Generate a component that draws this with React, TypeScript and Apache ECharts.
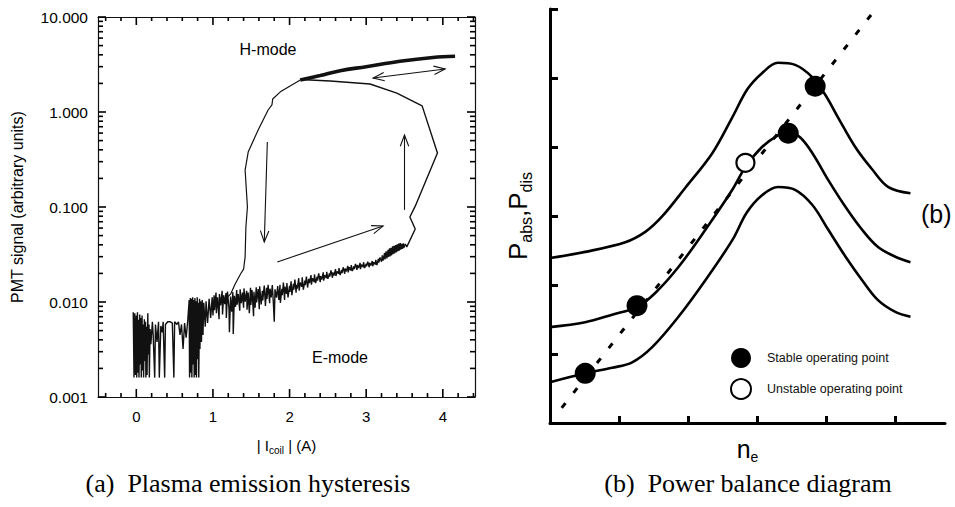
import React, { useEffect, useRef } from 'react';
import * as echarts from 'echarts';

// ---------- (a) Plasma emission hysteresis : [I_coil (A), PMT signal] ----------
const eNoiseLow: number[][] = [
  [-0.04, 0.0078], [-0.03, 0.0016], [-0.02, 0.0076], [-0.01, 0.0017], [0.0, 0.0072], [0.005, 0.0016],
  [0.015, 0.0078], [0.02, 0.0018], [0.03, 0.0065], [0.035, 0.0016], [0.045, 0.0074], [0.05, 0.0022],
  [0.06, 0.0068], [0.065, 0.0016], [0.075, 0.0072], [0.08, 0.0019], [0.09, 0.0058], [0.095, 0.0016],
  [0.105, 0.0066], [0.11, 0.0024], [0.12, 0.0062], [0.125, 0.0016], [0.135, 0.0055], [0.14, 0.0017],
  [0.15, 0.0076], [0.155, 0.0028], [0.165, 0.0058], [0.17, 0.0016], [0.18, 0.0052], [0.19, 0.0036],
  [0.21, 0.0062], [0.22, 0.0045], [0.24, 0.0016], [0.25, 0.0058], [0.27, 0.0038], [0.29, 0.0062],
  [0.3, 0.0016], [0.32, 0.0056], [0.34, 0.0048], [0.35, 0.0062], [0.37, 0.0016], [0.38, 0.0058],
  [0.41, 0.0062], [0.44, 0.0062], [0.47, 0.006], [0.49, 0.0016], [0.5, 0.0062], [0.53, 0.0058],
  [0.55, 0.0062], [0.57, 0.0045], [0.59, 0.0058], [0.61, 0.0032], [0.63, 0.006], [0.65, 0.0042],
  [0.67, 0.0062], [0.69, 0.0105], [0.695, 0.0016], [0.705, 0.011], [0.71, 0.0018], [0.72, 0.0108],
  [0.725, 0.0016], [0.735, 0.0112], [0.74, 0.0022], [0.75, 0.0105], [0.755, 0.0016], [0.765, 0.011],
  [0.77, 0.0017], [0.78, 0.0102], [0.785, 0.0016], [0.795, 0.0112], [0.8, 0.0025], [0.81, 0.0098],
  [0.815, 0.0016], [0.825, 0.0108], [0.83, 0.0032], [0.84, 0.0102], [0.85, 0.0038], [0.86, 0.0105],
  [0.87, 0.0045], [0.88, 0.0098], [0.9, 0.0055], [0.91, 0.0102], [0.93, 0.006], [0.95, 0.0108],
  [0.97, 0.0068], [0.99, 0.0112],
];
const eNoiseMid: number[][] = [
  [1.0, 0.0072], [1.015, 0.0118], [1.02, 0.0082], [1.04, 0.0126], [1.045, 0.0076], [1.06, 0.0112],
  [1.08, 0.0066], [1.085, 0.0121], [1.1, 0.0092], [1.12, 0.0131], [1.125, 0.0074], [1.14, 0.0118],
  [1.155, 0.0095], [1.17, 0.0124], [1.175, 0.0068], [1.19, 0.0129], [1.21, 0.0084], [1.215, 0.0048],
  [1.23, 0.0114], [1.245, 0.0079], [1.26, 0.0127], [1.265, 0.0046], [1.28, 0.0116], [1.295, 0.0089],
  [1.31, 0.0134], [1.315, 0.0094], [1.33, 0.0121], [1.35, 0.0081], [1.355, 0.0136], [1.37, 0.0097],
  [1.385, 0.0126], [1.4, 0.0087], [1.405, 0.0139], [1.42, 0.0101], [1.44, 0.0131], [1.445, 0.0083],
  [1.46, 0.0126], [1.475, 0.0076], [1.49, 0.0141], [1.495, 0.0093], [1.51, 0.0134], [1.53, 0.0071],
  [1.535, 0.0128], [1.55, 0.0087], [1.565, 0.0143], [1.57, 0.0099], [1.59, 0.0137], [1.605, 0.0084],
  [1.61, 0.0146], [1.63, 0.0094], [1.645, 0.0131], [1.65, 0.0104], [1.67, 0.0149], [1.685, 0.0091],
  [1.7, 0.0141], [1.705, 0.0108], [1.72, 0.0152], [1.74, 0.0097], [1.745, 0.0138], [1.76, 0.0112],
  [1.775, 0.0151], [1.79, 0.0093], [1.8, 0.0062], [1.81, 0.0136], [1.83, 0.0111], [1.845, 0.0147],
];
const eNoiseHigh: number[][] = [
  [1.86, 0.0105], [1.875, 0.0152], [1.88, 0.0098], [1.9, 0.0138], [1.905, 0.0118], [1.92, 0.016],
  [1.935, 0.0105], [1.94, 0.0145], [1.96, 0.0122], [1.965, 0.0158], [1.98, 0.0112], [2.0, 0.0148],
  [2.005, 0.0128], [2.02, 0.0165], [2.03, 0.0118], [2.05, 0.0155], [2.055, 0.0135], [2.07, 0.0172],
  [2.085, 0.0125], [2.09, 0.0152], [2.1, 0.0138], [2.12, 0.0178], [2.125, 0.0132], [2.14, 0.016],
  [2.16, 0.0145], [2.165, 0.0182], [2.18, 0.0135], [2.2, 0.0168], [2.205, 0.015], [2.22, 0.0185],
  [2.235, 0.0142], [2.25, 0.0175], [2.26, 0.0158], [2.28, 0.0192], [2.285, 0.0152], [2.3, 0.0178],
  [2.32, 0.0162], [2.325, 0.0195], [2.34, 0.0158], [2.36, 0.0185], [2.365, 0.0168], [2.38, 0.02],
  [2.4, 0.0162], [2.405, 0.0188], [2.42, 0.0172], [2.44, 0.0205], [2.445, 0.0168], [2.46, 0.0192],
  [2.48, 0.0178], [2.485, 0.0208], [2.5, 0.0175], [2.52, 0.02], [2.525, 0.0185], [2.54, 0.0215],
  [2.56, 0.018], [2.565, 0.0205], [2.58, 0.019], [2.6, 0.0222], [2.605, 0.0188], [2.62, 0.021],
  [2.64, 0.0198], [2.645, 0.0228], [2.66, 0.0192], [2.68, 0.0218], [2.685, 0.0202], [2.7, 0.0232],
  [2.72, 0.0198], [2.725, 0.0225], [2.74, 0.021], [2.76, 0.024], [2.765, 0.0205], [2.78, 0.0232],
  [2.8, 0.0215], [2.805, 0.0245], [2.82, 0.0212], [2.84, 0.0238], [2.845, 0.0222], [2.86, 0.0252],
  [2.88, 0.0218], [2.885, 0.0245], [2.9, 0.0228], [2.92, 0.0258], [2.925, 0.0222], [2.94, 0.0248],
  [2.96, 0.0232], [2.965, 0.0262], [2.98, 0.0228], [3.0, 0.0252], [3.005, 0.0238], [3.02, 0.0265],
  [3.04, 0.0232], [3.045, 0.0258], [3.06, 0.0242], [3.08, 0.027], [3.085, 0.0238], [3.1, 0.0262],
  [3.12, 0.0248], [3.125, 0.0278], [3.14, 0.0245], [3.16, 0.0285], [3.165, 0.026], [3.18, 0.0295],
  [3.2, 0.0265], [3.21, 0.031], [3.22, 0.0272], [3.24, 0.0328], [3.245, 0.028], [3.26, 0.0342],
  [3.27, 0.0288], [3.285, 0.0355], [3.29, 0.0298], [3.305, 0.0368], [3.31, 0.0302], [3.325, 0.0372],
  [3.33, 0.031], [3.345, 0.0385], [3.35, 0.0318], [3.365, 0.039], [3.37, 0.0325], [3.385, 0.0398],
  [3.39, 0.0332], [3.405, 0.0405], [3.41, 0.034], [3.425, 0.0412], [3.43, 0.0348], [3.445, 0.0418],
  [3.45, 0.0355], [3.465, 0.041], [3.47, 0.0362], [3.485, 0.0415], [3.49, 0.037], [3.51, 0.0408],
  [3.53, 0.038],
];
const jumpUp: number[][] = [
  [3.53, 0.038], [3.64, 0.0586], [3.57, 0.0785], [3.64, 0.102], [3.93, 0.37], [3.73, 1.16],
  [3.4, 1.58], [3.05, 1.97], [2.53, 2.12], [2.14, 2.2],
];
const hBranch: number[][] = [
  [2.14, 2.17], [2.4, 2.42], [2.66, 2.72], [3.0, 3.0], [3.44, 3.42], [3.87, 3.75], [4.16, 3.86],
];
const descending: number[][] = [
  [2.14, 2.17], [1.88, 1.63], [1.78, 1.37], [1.77, 1.19], [1.72, 1.05], [1.59, 0.647], [1.46, 0.379],
  [1.42, 0.245], [1.45, 0.1], [1.43, 0.0616], [1.42, 0.0298], [1.4, 0.0222], [1.36, 0.0197],
  [1.29, 0.0155], [1.23, 0.0121], [1.15, 0.0105],
];
// arrows: [x1, y1, x2, y2, heads(1 = end, 2 = both)]
const arrowsA: number[][] = [
  [3.09, 2.28, 4.03, 2.84, 2],
  [1.71, 0.483, 1.67, 0.0428, 1],
  [1.84, 0.0264, 3.22, 0.063, 1],
  [3.5, 0.0933, 3.5, 0.573, 1],
];
const xTickLabelsA = ['0', '1', '2', '3', '4'];
const xMajorTicksA = [0, 1, 2, 3, 4];
const yDecadesA = [0.001, 0.01, 0.1, 1, 10];

// ---------- (b) Power balance diagram : [n_e, P] in axis units ----------
const topCurve: number[][] = [
  [0, 2.39], [0.51, 2.48], [1.09, 2.62], [1.38, 2.77], [1.62, 2.99], [1.96, 3.41], [2.35, 3.91],
  [2.64, 4.43], [2.86, 4.84], [3.07, 5.07], [3.3, 5.22], [3.55, 5.19], [3.8, 5.01], [3.99, 4.75],
  [4.17, 4.43], [4.42, 4.0], [4.67, 3.67], [4.9, 3.42], [5.22, 3.33],
];
const midCurve: number[][] = [
  [0, 1.39], [0.51, 1.46], [0.9, 1.57], [1.26, 1.68], [1.52, 1.88], [1.86, 2.26], [2.25, 2.8],
  [2.64, 3.38], [2.83, 3.71], [3.07, 4.0], [3.3, 4.17], [3.45, 4.22], [3.62, 4.14], [3.8, 3.91],
  [4.03, 3.52], [4.28, 3.13], [4.52, 2.8], [4.75, 2.55], [5.0, 2.41], [5.22, 2.33],
];
const botCurve: number[][] = [
  [0, 0.59], [0.51, 0.72], [0.9, 0.8], [1.19, 0.88], [1.48, 1.1], [1.86, 1.54], [2.25, 2.07],
  [2.64, 2.65], [2.85, 3.05], [3.07, 3.3], [3.3, 3.42], [3.55, 3.38], [3.8, 3.16], [4.03, 2.8],
  [4.28, 2.41], [4.52, 2.07], [4.75, 1.78], [5.0, 1.61], [5.22, 1.54],
];
const loadLine: number[][] = [[0.17, 0.22], [4.67, 5.94]];
const stablePoints: number[][] = [[0.51, 0.72], [1.26, 1.7], [3.45, 4.2], [3.84, 4.88]];
const unstablePoints: number[][] = [[2.83, 3.77]];
const xTicksB = [1, 2, 3, 4, 5];

const SANS = '"Liberation Sans", Arial, Helvetica, sans-serif';
const SERIF = '"Liberation Serif", "Times New Roman", serif';

// tick marks of panel (a): [x, y, kind (0 = x tick, 1 = y tick), length]
function buildTicksA(): number[][] {
  const out: number[][] = [];
  for (let i = -2; i <= 22; i++) {
    const v = i / 5;
    const major = xMajorTicksA.indexOf(v) >= 0;
    out.push([v, 1, 0, major ? 8 : 4]);
  }
  yDecadesA.forEach((d, k) => {
    out.push([0, d, 1, 8]);
    if (k < yDecadesA.length - 1) for (let m = 2; m <= 9; m++) out.push([0, m * d, 1, 5]);
  });
  return out;
}

export default function App() {
  const ref = useRef<HTMLDivElement>(null);
  useEffect(() => {
    const chart = echarts.init(ref.current as HTMLDivElement, undefined, { renderer: 'svg' });

    const arrowRender = (params: any, api: any) => {
      const a = api.coord([api.value(0), api.value(1)]);
      const b = api.coord([api.value(2), api.value(3)]);
      const both = api.value(4) === 2;
      const head = (tip: number[], from: number[]) => {
        const ang = Math.atan2(tip[1] - from[1], tip[0] - from[0]);
        const L = 12, w = 0.36;
        return [
          [tip[0] - L * Math.cos(ang - w), tip[1] - L * Math.sin(ang - w)],
          tip,
          [tip[0] - L * Math.cos(ang + w), tip[1] - L * Math.sin(ang + w)],
        ];
      };
      const style = { stroke: '#111', lineWidth: 1.1, fill: null };
      const children: any[] = [
        { type: 'line', shape: { x1: a[0], y1: a[1], x2: b[0], y2: b[1] }, style },
        { type: 'polyline', shape: { points: head(b, a) }, style },
      ];
      if (both) children.push({ type: 'polyline', shape: { points: head(a, b) }, style });
      return { type: 'group', children };
    };

    const tickRender = (params: any, api: any) => {
      const cs = params.coordSys;
      const kind = api.value(2);
      const len = api.value(3);
      const style = { stroke: '#000', lineWidth: 1.6 };
      if (kind === 0) {
        const px = api.coord([api.value(0), 1])[0];
        const yb = cs.y + cs.height;
        return {
          type: 'group', children: [
            { type: 'line', shape: { x1: px, y1: yb, x2: px, y2: yb - len }, style },
            { type: 'line', shape: { x1: px, y1: cs.y, x2: px, y2: cs.y + len }, style },
          ],
        };
      }
      const py = api.coord([0, api.value(1)])[1];
      const xr = cs.x + cs.width;
      return {
        type: 'group', children: [
          { type: 'line', shape: { x1: cs.x, y1: py, x2: cs.x + len, y2: py }, style },
          { type: 'line', shape: { x1: xr, y1: py, x2: xr - len, y2: py }, style },
        ],
      };
    };

    const lineA = (data: number[][], width: number, smooth: number | boolean = false) => ({
      type: 'line', xAxisIndex: 0, yAxisIndex: 0, data, showSymbol: false, symbol: 'none', smooth,
      lineStyle: { color: '#111', width }, silent: true,
    });
    const curveB = (data: number[][]) => ({
      type: 'line', xAxisIndex: 2, yAxisIndex: 2, data, smooth: 0.35, showSymbol: false, symbol: 'none',
      lineStyle: { color: '#000', width: 2.6 }, silent: true,
    });

    const axisA = () => ({ show: true, onZero: false, lineStyle: { color: '#111', width: 1.2 } });

    const option: any = {
      animation: false,
      backgroundColor: '#fff',
      textStyle: { fontFamily: SANS },
      grid: [
        { left: 98, top: 17, width: 377, height: 380 },
        { left: 550, top: 9, width: 395, height: 414 },
      ],
      xAxis: [
        {
          gridIndex: 0, type: 'value', min: -0.5, max: 4.42, position: 'bottom',
          axisLine: axisA(), axisTick: { show: false }, splitLine: { show: false },
          axisLabel: {
            margin: 12, fontSize: 15, color: '#000', fontFamily: SANS,
            formatter: (v: number) => (Number.isInteger(v) && v >= 0 ? xTickLabelsA[v] : ''),
          },
          name: '{m|| I}{s|coil}{m| | (A)}', nameLocation: 'middle', nameGap: 38,
          nameTextStyle: {
            color: '#000',
            rich: {
              m: { fontSize: 15, fontFamily: SANS, color: '#000', lineHeight: 20, verticalAlign: 'middle' },
              s: { fontSize: 10, fontFamily: SANS, color: '#000', lineHeight: 10, verticalAlign: 'bottom' },
            },
          },
        },
        {
          gridIndex: 0, type: 'value', min: -0.5, max: 4.42, position: 'top',
          axisLine: axisA(), axisTick: { show: false }, splitLine: { show: false },
          axisLabel: { show: false },
        },
        {
          gridIndex: 1, type: 'value', min: 0, max: 5.72, position: 'bottom',
          axisLine: { show: true, onZero: false, lineStyle: { color: '#000', width: 3 } },
          axisTick: { show: true, inside: true, length: 7, customValues: xTicksB, lineStyle: { color: '#000', width: 3 } },
          axisLabel: { show: false }, splitLine: { show: false },
          name: '{m|n}{s|e}', nameLocation: 'middle', nameGap: 11,
          nameTextStyle: {
            color: '#000',
            rich: {
              m: { fontSize: 25, fontFamily: SANS, color: '#000', lineHeight: 30, verticalAlign: 'middle' },
              s: { fontSize: 14, fontFamily: SANS, color: '#000', lineHeight: 14, verticalAlign: 'bottom' },
            },
          },
        },
      ],
      yAxis: [
        {
          gridIndex: 0, type: 'log', logBase: 10, min: 0.001, max: 10, position: 'left',
          axisLine: axisA(), axisTick: { show: false }, splitLine: { show: false },
          axisLabel: { margin: 10, fontSize: 15.5, color: '#000', fontFamily: SANS, formatter: (v: number) => v.toFixed(3) },
          name: 'PMT signal (arbitrary units)', nameLocation: 'middle', nameGap: 73,
          nameTextStyle: { fontSize: 16, color: '#000', fontFamily: SANS },
        },
        {
          gridIndex: 0, type: 'log', logBase: 10, min: 0.001, max: 10, position: 'right',
          axisLine: axisA(), axisTick: { show: false }, splitLine: { show: false }, axisLabel: { show: false },
        },
        {
          gridIndex: 1, type: 'value', min: 0, max: 6, interval: 1, position: 'left',
          axisLine: { show: true, onZero: false, lineStyle: { color: '#000', width: 3 } },
          axisTick: { show: true, inside: true, length: 8, lineStyle: { color: '#000', width: 3 } },
          axisLabel: { show: false }, splitLine: { show: false },
          name: '{m|P}{s|abs}{m|,P}{s|dis}', nameLocation: 'middle', nameGap: 16,
          nameTextStyle: {
            color: '#000',
            rich: {
              m: { fontSize: 26, fontFamily: SANS, color: '#000', lineHeight: 32, verticalAlign: 'middle' },
              s: { fontSize: 16, fontFamily: SANS, color: '#000', lineHeight: 16, verticalAlign: 'bottom' },
            },
          },
        },
      ],
      legend: {
        left: 725, top: 343, orient: 'vertical', itemWidth: 20, itemHeight: 20, itemGap: 10,
        selectedMode: false,
        textStyle: { fontSize: 12.5, fontFamily: SANS, color: '#111', padding: [7, 0, 0, 11] },
        data: [
          { name: 'Stable operating point', icon: 'circle' },
          { name: 'Unstable operating point', icon: 'circle' },
        ],
      },
      series: [
        {
          type: 'custom', xAxisIndex: 0, yAxisIndex: 0, data: buildTicksA(), renderItem: tickRender,
          encode: { x: 0, y: 1 }, silent: true, z: 10,
        },
        lineA([...eNoiseLow, ...eNoiseMid, ...eNoiseHigh, ...jumpUp], 1.4),
        lineA(descending, 1.2),
        lineA(hBranch, 3.6, 0.4),
        {
          type: 'custom', xAxisIndex: 0, yAxisIndex: 0, data: arrowsA, renderItem: arrowRender,
          encode: { x: [0, 2], y: [1, 3] }, silent: true,
        },
        curveB(topCurve),
        curveB(midCurve),
        curveB(botCurve),
        {
          type: 'line', xAxisIndex: 2, yAxisIndex: 2, data: loadLine, showSymbol: false, symbol: 'none',
          lineStyle: { color: '#000', width: 3, type: [6, 13], cap: 'butt' }, silent: true,
        },
        {
          name: 'Stable operating point', type: 'scatter', xAxisIndex: 2, yAxisIndex: 2, data: stablePoints,
          symbol: 'circle', symbolSize: 21, itemStyle: { color: '#000', opacity: 1 }, z: 5, silent: true,
        },
        {
          name: 'Unstable operating point', type: 'scatter', xAxisIndex: 2, yAxisIndex: 2, data: unstablePoints,
          symbol: 'circle', symbolSize: 18,
          itemStyle: { color: '#fff', borderColor: '#000', borderWidth: 2.2, opacity: 1 }, z: 5, silent: true,
        },
      ],
      graphic: [
        { type: 'text', x: 268, y: 49, silent: true, style: { text: 'H-mode', fontSize: 16, fontFamily: SANS, fill: '#000', align: 'center', verticalAlign: 'middle' } },
        { type: 'text', x: 340, y: 357, silent: true, style: { text: 'E-mode', fontSize: 16, fontFamily: SANS, fill: '#000', align: 'center', verticalAlign: 'middle' } },
        { type: 'text', x: 921, y: 214, silent: true, style: { text: '(b)', fontSize: 25, fontFamily: SANS, fill: '#000', align: 'left', verticalAlign: 'middle' } },
        { type: 'text', x: 248, y: 483, silent: true, style: { text: '(a)  Plasma emission hysteresis', fontSize: 26, fontFamily: SERIF, fill: '#000', align: 'center', verticalAlign: 'middle' } },
        { type: 'text', x: 748, y: 483, silent: true, style: { text: '(b)  Power balance diagram', fontSize: 26, fontFamily: SERIF, fill: '#000', align: 'center', verticalAlign: 'middle' } },
      ],
    };
    chart.setOption(option);
    return () => chart.dispose();
  }, []);
  return (
    <div
      ref={ref}
      style={{ position: 'fixed', left: 0, top: 0, width: 955, height: 507, background: '#fff' }}
    />
  );
}
